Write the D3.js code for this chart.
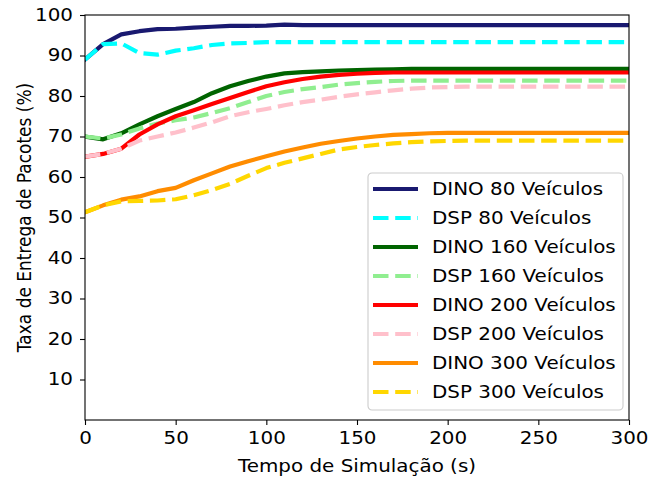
<!DOCTYPE html>
<html>
<head>
<meta charset="utf-8">
<script src="https://cdn.jsdelivr.net/npm/d3@7"></script>
<style>
  body { margin: 0; background: #fff; }
  text { font-family: "DejaVu Sans", sans-serif; fill: #000; font-size: 17px; }
</style>
</head>
<body>
<div id="chart"></div>
<script>
// time axis (s), one sample every 10 s
var times = d3.range(0, 301, 10);

var dino80 = [89, 92.8, 95.2, 96, 96.5, 96.6, 96.9, 97.1, 97.3, 97.3, 97.4, 97.6, 97.5, 97.5, 97.5, 97.5,
  97.5, 97.5, 97.5, 97.5, 97.5, 97.5, 97.5, 97.5, 97.5, 97.5, 97.5, 97.5, 97.5, 97.5, 97.5];
var dsp80 = [89, 92.8, 93, 90.6, 90.2, 91.2, 91.8, 92.6, 93, 93.1, 93.3, 93.3, 93.3, 93.3, 93.3, 93.3,
  93.3, 93.3, 93.3, 93.3, 93.3, 93.3, 93.3, 93.3, 93.3, 93.3, 93.3, 93.3, 93.3, 93.3, 93.3];
var dino160 = [70, 69.3, 70.8, 73, 75, 76.8, 78.5, 80.7, 82.4, 83.7, 84.8, 85.6, 85.9, 86.1, 86.3, 86.4,
  86.5, 86.6, 86.7, 86.7, 86.7, 86.7, 86.7, 86.7, 86.7, 86.7, 86.7, 86.7, 86.7, 86.7, 86.7];
var dsp160 = [70, 69.5, 70.5, 72, 73.2, 74, 74.7, 75.8, 77, 78.5, 80, 81, 81.7, 82.2, 82.8, 83.2,
  83.5, 83.7, 83.8, 83.8, 83.8, 83.8, 83.8, 83.8, 83.8, 83.8, 83.8, 83.8, 83.8, 83.8, 83.8];
var dino200 = [65, 65.7, 67, 70.5, 73, 75, 76.5, 78, 79.5, 81, 82.4, 83.4, 84.2, 84.8, 85.2, 85.5,
  85.7, 85.8, 85.8, 85.8, 85.8, 85.8, 85.8, 85.8, 85.8, 85.8, 85.8, 85.8, 85.8, 85.8, 85.8];
var dsp200 = [65, 65.7, 67, 69, 70, 71, 72.2, 73.5, 75, 76, 76.8, 77.7, 78.5, 79.1, 79.8, 80.4,
  80.9, 81.4, 81.8, 82.1, 82.2, 82.3, 82.3, 82.3, 82.3, 82.3, 82.3, 82.3, 82.3, 82.3, 82.3];
var dino300 = [51.3, 53, 54.4, 55.2, 56.5, 57.3, 59.2, 60.9, 62.6, 63.9, 65.1, 66.3, 67.3, 68.2, 68.9, 69.5,
  70, 70.4, 70.6, 70.8, 70.9, 70.9, 70.9, 70.9, 70.9, 70.9, 70.9, 70.9, 70.9, 70.9, 70.9];
var dsp300 = [51.3, 53, 54, 54.1, 54.2, 54.5, 55.5, 56.8, 58.3, 60.3, 62.2, 63.5, 64.6, 65.7, 66.8, 67.4,
  67.9, 68.3, 68.6, 68.8, 68.9, 69, 69, 69, 69, 69, 69, 69, 69, 69, 69];

var seriesNames = ["DINO 80 Veículos", "DSP 80 Veículos", "DINO 160 Veículos", "DSP 160 Veículos",
  "DINO 200 Veículos", "DSP 200 Veículos", "DINO 300 Veículos", "DSP 300 Veículos"];
var seriesValues = [dino80, dsp80, dino160, dsp160, dino200, dsp200, dino300, dsp300];
var seriesColors = ["#191970", "#00ffff", "#006400", "#90ee90", "#ff0000", "#ffc0cb", "#ff8c00", "#ffd700"];
var seriesDashed = [false, true, false, true, false, true, false, true];

var xTicks = [0, 50, 100, 150, 200, 250, 300];
var yTicks = [10, 20, 30, 40, 50, 60, 70, 80, 90, 100];

var svgWidth = 649;
var svgHeight = 477;
var margin = { top: 15, right: 20, bottom: 57, left: 85 };
var width = svgWidth - margin.left - margin.right;
var height = svgHeight - margin.top - margin.bottom;
var sx = 1.17; // the text in the picture is a bit wider than it is tall

var svg = d3.select("#chart")
  .append("svg")
  .attr("width", svgWidth)
  .attr("height", svgHeight);

var chartGroup = svg.append("g")
  .attr("transform", `translate(${margin.left}, ${margin.top})`);

var xScale = d3.scaleLinear().domain([0, 300]).range([0, width]);
var yScale = d3.scaleLinear().domain([0, 100]).range([height, 0]);

svg.append("defs").append("clipPath").attr("id", "plotClip")
  .append("rect").attr("width", width).attr("height", height);

var line = d3.line()
  .x((d, i) => xScale(times[i]))
  .y(d => yScale(d));

var linesGroup = chartGroup.append("g").attr("clip-path", "url(#plotClip)");
seriesValues.forEach(function(vals, k) {
  linesGroup.append("path")
    .datum(vals)
    .attr("fill", "none")
    .attr("stroke", seriesColors[k])
    .attr("stroke-width", 4.2)
    .attr("stroke-linejoin", "round")
    .attr("stroke-linecap", seriesDashed[k] ? "butt" : "square")
    .attr("stroke-dasharray", seriesDashed[k] ? "15.5,6.7" : null)
    .attr("d", line);
});

// axes
var bottomAxis = d3.axisBottom(xScale).tickValues(xTicks).tickSize(5).tickPadding(5);
var leftAxis = d3.axisLeft(yScale).tickValues(yTicks).tickSize(5).tickPadding(5);

var xg = chartGroup.append("g")
  .attr("transform", `translate(0, ${height})`)
  .call(bottomAxis);
var yg = chartGroup.append("g").call(leftAxis);

[xg, yg].forEach(function(g) {
  g.select(".domain").remove();
  g.selectAll(".tick line").attr("stroke", "#000").attr("stroke-width", 1.1);
  g.selectAll(".tick text")
    .attr("font-size", null).attr("font-family", null)
    .attr("fill", "#000")
    .style("font-size", "17px");
});
xg.selectAll(".tick text").attr("dy", "0.85em").attr("transform", `scale(${sx},1)`);
yg.selectAll(".tick text").attr("x", -10.3).attr("transform", `scale(${sx},1)`);

// frame
chartGroup.append("rect")
  .attr("width", width)
  .attr("height", height)
  .attr("fill", "none")
  .attr("stroke", "#000")
  .attr("stroke-width", 1.1);

// axis labels
chartGroup.append("text")
  .attr("transform", `translate(${width / 2}, ${height + 52}) scale(${sx},1)`)
  .attr("text-anchor", "middle")
  .text("Tempo de Simulação (s)");

chartGroup.append("text")
  .attr("transform", `translate(${-margin.left + 31}, ${height / 2}) scale(${sx},1) rotate(-90)`)
  .attr("text-anchor", "middle")
  .text("Taxa de Entrega de Pacotes (%)");

// legend
var legend = svg.append("g").attr("transform", "translate(368, 173)");
legend.append("rect")
  .attr("width", 255)
  .attr("height", 237)
  .attr("rx", 4)
  .attr("fill", "#fff")
  .attr("fill-opacity", 0.8)
  .attr("stroke", "#cccccc")
  .attr("stroke-width", 1.1);

seriesNames.forEach(function(name, k) {
  var yy = 16 + k * 29;
  legend.append("line")
    .attr("x1", 5).attr("x2", 50)
    .attr("y1", yy).attr("y2", yy)
    .attr("stroke", seriesColors[k])
    .attr("stroke-width", 4.2)
    .attr("stroke-dasharray", seriesDashed[k] ? "15.5,6.7" : null);
  legend.append("text")
    .attr("transform", `translate(64, ${yy}) scale(${sx},1)`)
    .attr("dy", "0.35em")
    .text(name);
});
</script>
</body>
</html>
